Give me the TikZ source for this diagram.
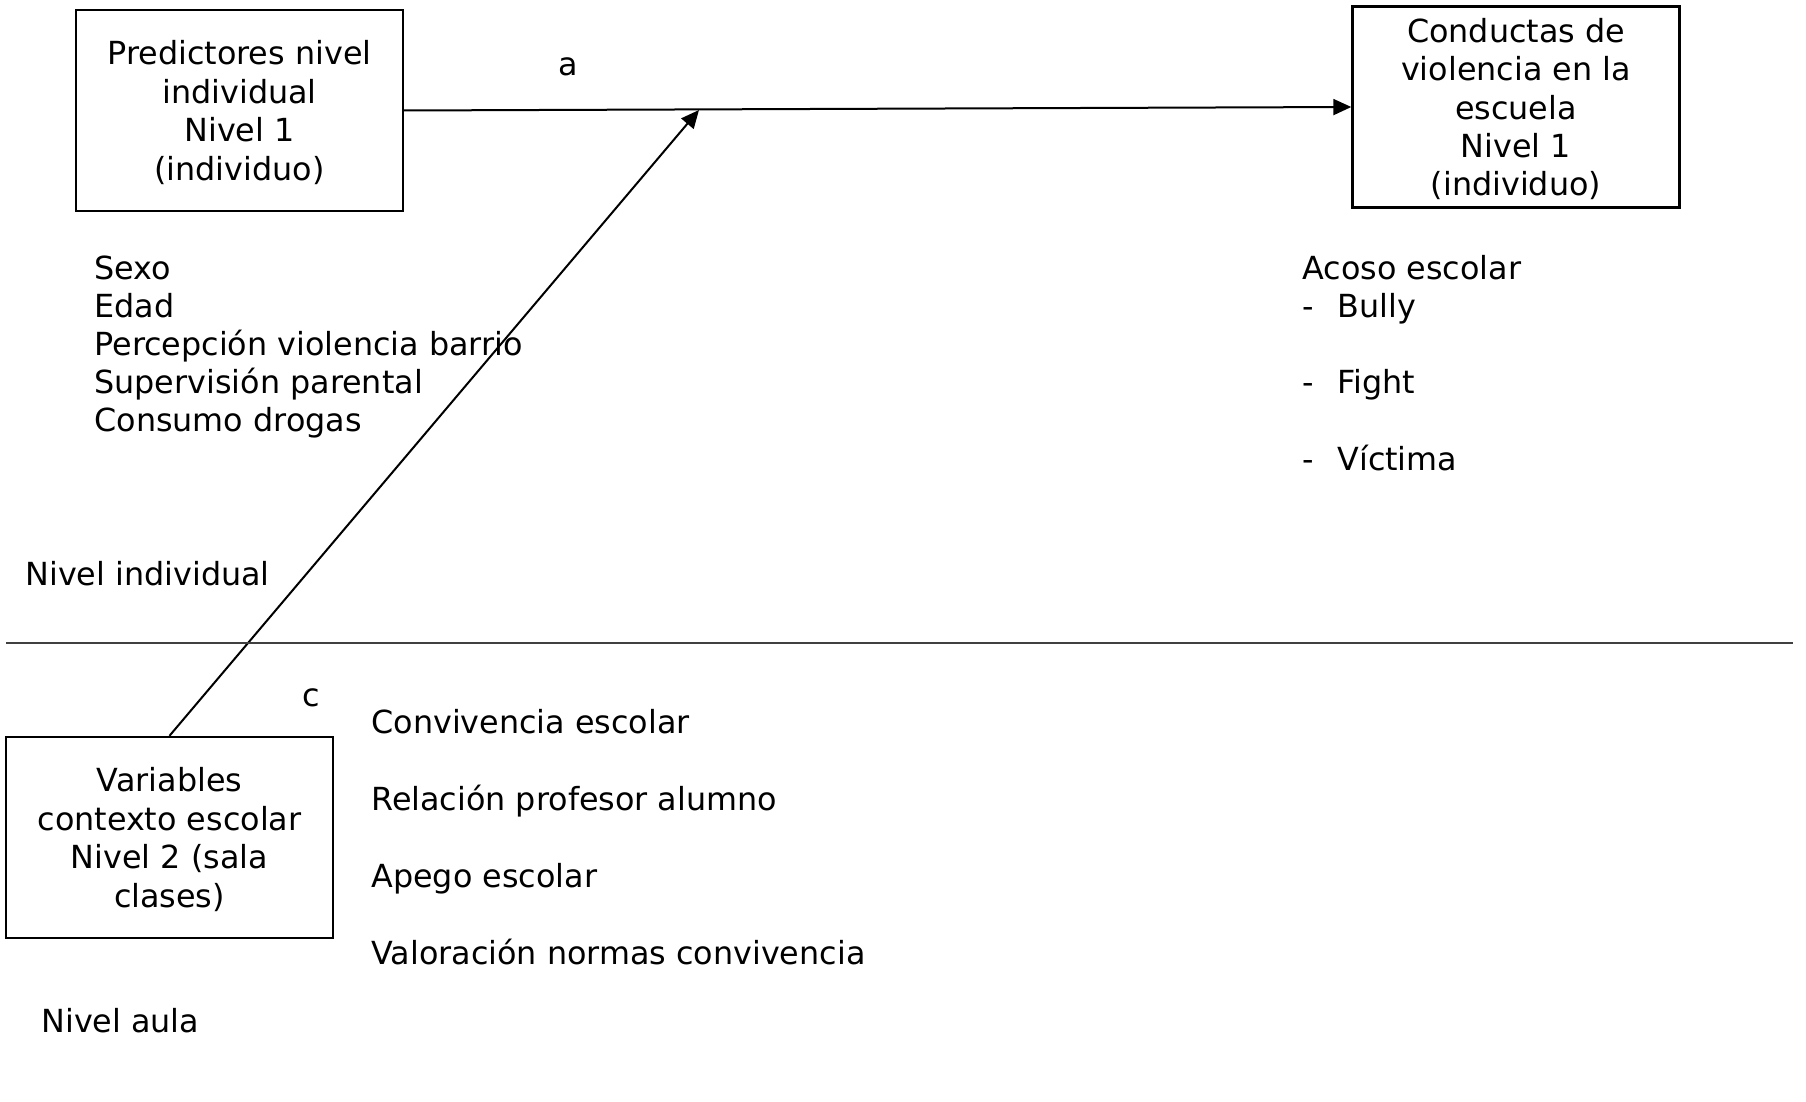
\documentclass[tikz,border=0pt]{standalone}
\usepackage{fontspec}
\setmainfont{DejaVu Sans}
\usetikzlibrary{arrows.meta}

\tikzset{
    caja/.style={draw, line width=1.2pt, minimum width=163.5pt, minimum height=100.5pt, align=center, inner sep=0pt, text depth=0pt},
    texto/.style={anchor=base west, inner sep=0pt},
    flecha/.style={-{Triangle[length=9pt,width=8pt]}, line width=1pt},
}

\begin{document}
\begin{tikzpicture}[x=0.5pt, y=-0.5pt, font=\fontsize{15.9}{19.2}\selectfont]
    \useasboundingbox (0,0) rectangle (1806,1102);

    \node[caja] (pred) at (239.5,110.5) {Predictores nivel\\individual\\Nivel 1\\(individuo)};
    \node[caja] (cond) at (1516,107) {Conductas de\\violencia en la\\escuela\\Nivel 1\\(individuo)};
    \node[caja] (var) at (169.5,837.5) {Variables\\contexto escolar\\Nivel 2 (sala\\clases)};

    \coordinate (m) at (699,110);
    \coordinate (sepL) at (6,643);
    \coordinate (sepR) at (1793,643);

    \draw[flecha] (pred.east) -- (cond.west);
    \draw[flecha] (var.north) -- (m);
    \draw[line width=0.8pt, black!75] (sepL) -- (sepR);

    \node[anchor=base, inner sep=0pt] (la) at (568,76) {a};
    \node[anchor=base, inner sep=0pt] (lc) at (311,706) {c};

    \foreach \txt [count=\i] in {Sexo, Edad, Percepción violencia barrio, Supervisión parental, Consumo drogas}
        \node[texto] (ind\i) at (94,240.8+38.2*\i) {\txt};

    \node[texto] (acoso) at (1302,279) {Acoso escolar};
    \foreach \txt [count=\i] in {Bully, Fight, Víctima} {
        \node[texto] (guion\i) at (1302,240.5+76.5*\i) {-};
        \node[texto] (viol\i) at (1337,240.5+76.5*\i) {\txt};
    }

    \foreach \txt [count=\i] in {Convivencia escolar, Relación profesor alumno, Apego escolar, Valoración normas convivencia}
        \node[texto] (esc\i) at (371,656+77*\i) {\txt};

    \node[texto] (nind) at (25,585) {Nivel individual};
    \node[texto] (naula) at (41,1032) {Nivel aula};
\end{tikzpicture}
\end{document}
